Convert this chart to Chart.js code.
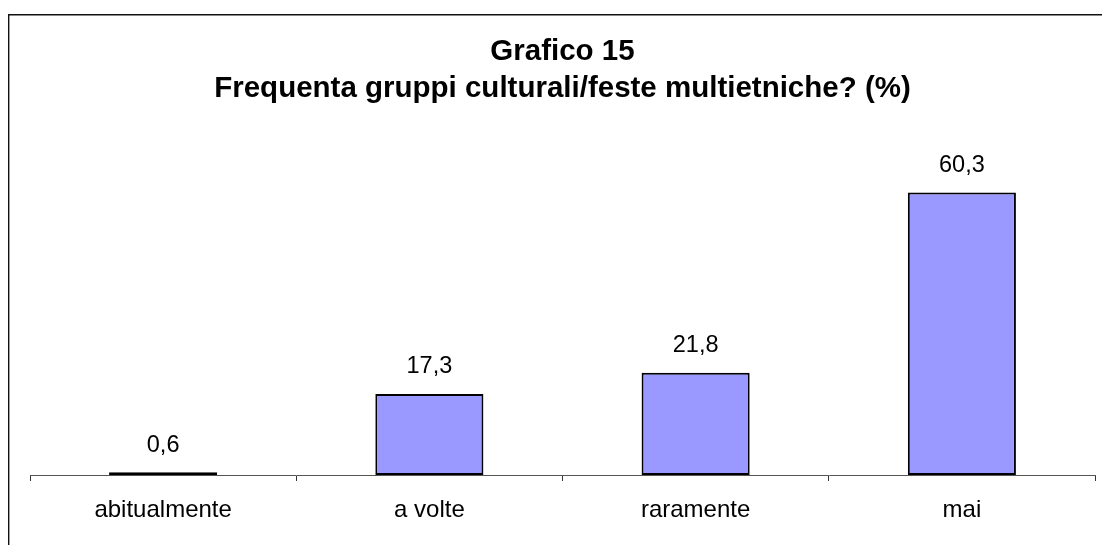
<!DOCTYPE html>
<html>
<head>
<meta charset="utf-8">
<script src="https://cdn.jsdelivr.net/npm/chart.js@4"></script>
<style>
  html, body { margin: 0; padding: 0; background: #fff; }
  #wrap { width: 1102px; height: 545px; position: relative; }
</style>
</head>
<body>
<div id="wrap"><canvas id="c" width="1102" height="545"></canvas></div>
<script>
const titleLines = ['Grafico 15', 'Frequenta gruppi culturali/feste multietniche? (%)'];
const categories = ['abitualmente', 'a volte', 'raramente', 'mai'];
const values = [0.6, 17.3, 21.8, 60.3];
const yMin = 0;
const yMax = 70;

const FONT = '"Liberation Sans", Arial, Helvetica, sans-serif';

const framePlugin = {
  id: 'frame',
  afterDraw(chart) {
    const ctx = chart.ctx;
    ctx.save();
    ctx.strokeStyle = '#111';
    ctx.lineWidth = 1.4;
    ctx.beginPath();
    ctx.moveTo(8.7, 545);
    ctx.lineTo(8.7, 14.7);
    ctx.lineTo(1102, 14.7);
    ctx.stroke();
    ctx.restore();
  }
};

const valueLabels = {
  id: 'valueLabels',
  afterDatasetsDraw(chart) {
    const ctx = chart.ctx;
    const meta = chart.getDatasetMeta(0);
    ctx.save();
    ctx.fillStyle = '#000';
    ctx.font = '23.5px ' + FONT;
    ctx.textAlign = 'center';
    ctx.textBaseline = 'middle';
    meta.data.forEach((bar, i) => {
      const v = chart.data.datasets[0].data[i];
      ctx.fillText(v.toFixed(1).replace('.', ','), bar.x, bar.y - 27);
    });
    ctx.restore();
  }
};

new Chart(document.getElementById('c'), {
  type: 'bar',
  data: {
    labels: categories,
    datasets: [{
      data: values,
      backgroundColor: '#9999FF',
      borderColor: '#000',
      borderWidth: 2,
      borderSkipped: false,
      categoryPercentage: 1,
      barPercentage: 0.406
    }]
  },
  options: {
    responsive: false,
    animation: false,
    devicePixelRatio: 1,
    layout: { padding: { top: 0, left: 30, right: 7, bottom: 0 } },
    plugins: {
      legend: { display: false },
      tooltip: { enabled: false },
      title: {
        display: true,
        text: titleLines,
        color: '#000',
        font: { family: FONT, size: 29.5, weight: 'bold', lineHeight: 37 / 29.5 },
        padding: { top: 33, bottom: 40 }
      }
    },
    scales: {
      x: {
        grid: {
          display: true,
          drawOnChartArea: false,
          drawTicks: true,
          tickLength: 6,
          color: '#333',
          lineWidth: 1
        },
        border: { display: true, color: '#555', width: 1 },
        ticks: {
          color: '#000',
          font: { family: FONT, size: 24 },
          padding: 15
        },
        afterFit(scale) { scale.height = 70; }
      },
      y: {
        display: false,
        min: yMin,
        max: yMax
      }
    }
  },
  plugins: [framePlugin, valueLabels]
});
</script>
</body>
</html>
